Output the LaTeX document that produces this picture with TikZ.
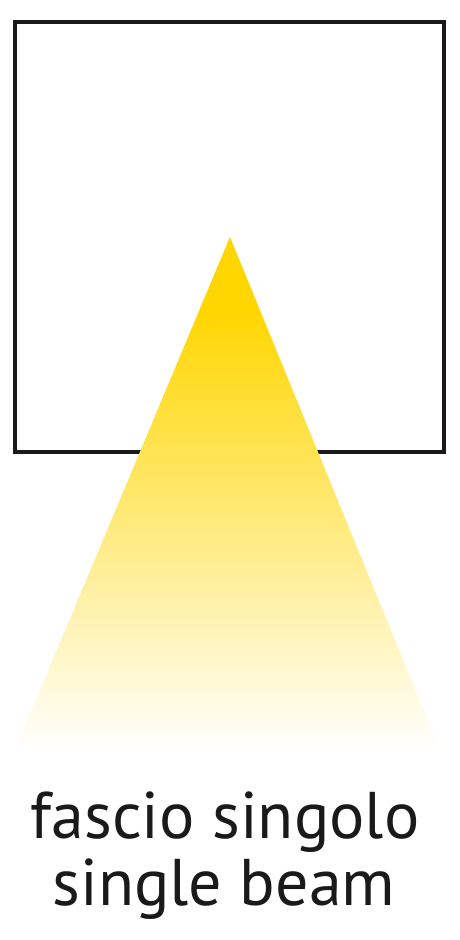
\documentclass[tikz,border=0pt]{standalone}
\usepackage{fontspec}
\setmainfont{PT Sans}
\definecolor{beamgold}{RGB}{255,214,0}
\definecolor{framecol}{RGB}{26,26,26}
\pgfdeclareverticalshading{beamshade}{100bp}{color(0bp)=(white); color(25bp)=(white); color(68bp)=(beamgold); color(100bp)=(beamgold)}
\tikzset{
  frame/.style={draw=framecol, line width=4pt},
  beam/.style={shading=beamshade},
  label/.style={font=\fontsize{66}{67}\selectfont, anchor=base, inner sep=0pt, text=framecol}
}
\begin{document}
\begin{tikzpicture}[x=1pt,y=-1pt]
\useasboundingbox[fill=white] (0,0) rectangle (460,940);
\draw[frame] (15,22) rectangle (444,452);
\shade[beam] (230,237) -- (440,750) -- (15,750) -- cycle;
\node[label] (l1) at (225,838) {fascio singolo};
\node[label] (l2) at (224,905) {single beam};
\end{tikzpicture}
\end{document}
